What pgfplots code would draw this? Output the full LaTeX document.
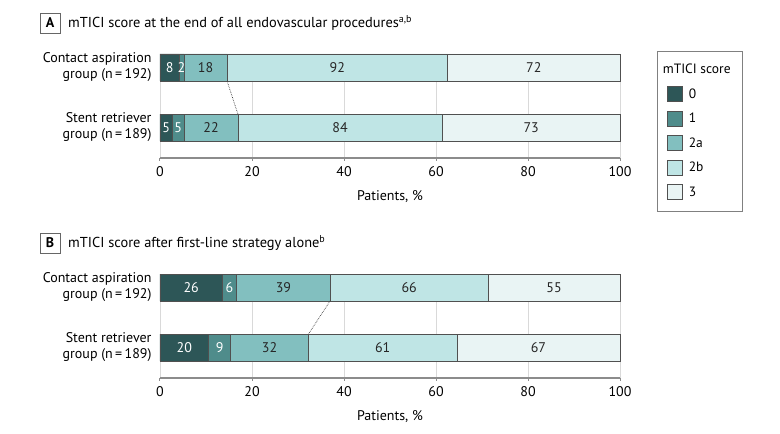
\documentclass[border=0pt]{standalone}
\usepackage{pgfplots}
\pgfplotsset{compat=1.18}
\usepackage{pgfplotstable}
\usepackage{fontspec}
\setmainfont{PT Sans}
\definecolor{c0}{HTML}{2D5657}
\definecolor{c1}{HTML}{4F8C8B}
\definecolor{c2a}{HTML}{82BFBF}
\definecolor{c2b}{HTML}{BFE5E5}
\definecolor{c3}{HTML}{E9F4F4}
\definecolor{edge}{HTML}{505050}

\pgfplotstableread{
y p0 n0 p1 n1 p2a n2a p2b n2b p3 n3
1 4.1667 8 1.0417 2 9.3750 18 47.9167 92 37.5000 72
0 2.6455 5 2.6455 5 11.6402 22 44.4444 84 38.6243 73
}\tabA
\pgfplotstableread{
y p0 n0 p1 n1 p2a n2a p2b n2b p3 n3
1 13.5417 26 3.1250 6 20.3125 39 34.3750 66 28.6458 55
0 10.5820 20 4.7619 9 16.9312 32 32.2751 61 35.4497 67
}\tabB

\newcommand\fs{\fontsize{14}{16}\selectfont}
\pgfplotsset{
  panel/.style={
    scale only axis, width=460pt, height=104pt,
    xmin=0, xmax=100, ymin=-0.508, ymax=1.225,
    xbar stacked, bar width=27pt,
    axis x line*=bottom, axis y line*=left,
    y axis line style={draw=none},
    x axis line style={draw=black!45, line width=1.2pt},
    xtick={0,20,...,100}, ytick={0,1},
    tick align=outside, major tick length=3pt,
    xtick style={draw=black!45, line width=1pt},
    ytick style={draw=none},
    xmajorgrids, grid style={black!15, line width=0.9pt},
    /pgf/number format/assume math mode=true,
    ticklabel style={font=\fs},
    xticklabel style={yshift=-2pt},
    yticklabel style={align=right, xshift=-2pt},
    xlabel={Patients, \%},
    xlabel style={font=\fs, yshift=-7pt},
    point meta=explicit symbolic,
    clip=false,
    area legend,
    legend image code/.code={\draw[##1, draw=edge, line width=0.5pt] (0pt,-7.5pt) rectangle (15pt,7.5pt); \path (19pt,0pt);},
  },
  seg/.style={
    fill=#1, draw=edge, line width=0.6pt,
    nodes near coords,
    every node near coord/.append style={anchor=center, font=\fs, text=black!85},
  },
  segw/.style={
    seg={#1},
    every node near coord/.append style={text=white},
  },
  overlay axis/.style={
    scale only axis, width=460pt, height=104pt,
    xmin=0, xmax=100, ymin=-0.508, ymax=1.225, hide axis, clip=false,
  },
}

\begin{document}
\begin{tikzpicture}[x=1pt, y=1pt, font=\fs]
\path[use as bounding box] (0,0) rectangle (780,434);

% Panel titles
\node[draw=black!60, line width=0.7pt, minimum width=20pt, minimum height=20pt, inner sep=0pt, font=\fs\bfseries] at (50,411) {A};
\node[anchor=west, inner sep=0pt, font=\fontsize{14.4}{16}\selectfont] at (68,411) {mTICI score at the end of all endovascular procedures\textsuperscript{a,b}};
\node[draw=black!60, line width=0.7pt, minimum width=20pt, minimum height=20pt, inner sep=0pt, font=\fs\bfseries] at (50,191) {B};
\node[anchor=west, inner sep=0pt, font=\fontsize{14.4}{16}\selectfont] at (68,191) {mTICI score after first-line strategy alone\textsuperscript{b}};

% Panel A
\begin{axis}[panel, at={(160pt,276pt)}, anchor=south west,
  yticklabels={{Stent retriever\\group (n\,=\,189)},{Contact aspiration\\group (n\,=\,192)}},
  legend style={at={(1.0804,1.029)}, anchor=north west, draw=black!50, line width=0.6pt,
    font=\fontsize{13.5}{15}\selectfont, row sep=9pt, inner xsep=10pt, inner ysep=11pt},
  legend cell align=left]
\addlegendimage{empty legend}\addlegendentry{\hspace*{-26pt}mTICI score}
\addplot[segw=c0] table[x=p0, y=y, meta=n0] {\tabA}; \addlegendentry{0}
\addplot[segw=c1] table[x=p1, y=y, meta=n1] {\tabA}; \addlegendentry{1}
\addplot[seg=c2a] table[x=p2a, y=y, meta=n2a] {\tabA}; \addlegendentry{2a}
\addplot[seg=c2b] table[x=p2b, y=y, meta=n2b] {\tabA}; \addlegendentry{2b}
\addplot[seg=c3] table[x=p3, y=y, meta=n3] {\tabA}; \addlegendentry{3}
\end{axis}
\begin{axis}[overlay axis, at={(160pt,276pt)}, anchor=south west]
\addplot[densely dotted, line width=0.7pt, black!75] coordinates {(14.583,0.775) (16.931,0.225)};
\end{axis}

% Panel B
\begin{axis}[panel, at={(160pt,56pt)}, anchor=south west,
  yticklabels={{Stent retriever\\group (n\,=\,189)},{Contact aspiration\\group (n\,=\,192)}}]
\addplot[segw=c0] table[x=p0, y=y, meta=n0] {\tabB};
\addplot[segw=c1] table[x=p1, y=y, meta=n1] {\tabB};
\addplot[seg=c2a] table[x=p2a, y=y, meta=n2a] {\tabB};
\addplot[seg=c2b] table[x=p2b, y=y, meta=n2b] {\tabB};
\addplot[seg=c3] table[x=p3, y=y, meta=n3] {\tabB};
\end{axis}
\begin{axis}[overlay axis, at={(160pt,56pt)}, anchor=south west]
\addplot[densely dotted, line width=0.7pt, black!75] coordinates {(36.979,0.775) (32.275,0.225)};
\end{axis}
\end{tikzpicture}
\end{document}
